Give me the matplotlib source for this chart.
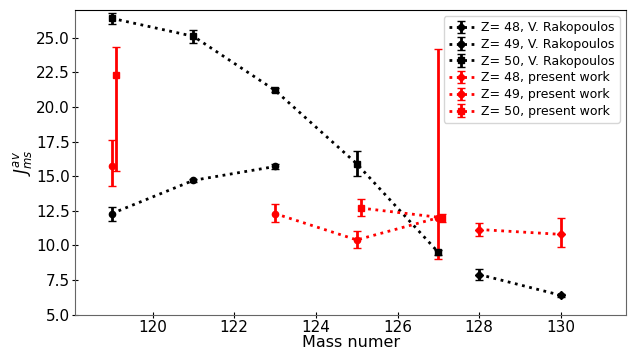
import numpy as np
import matplotlib
matplotlib.use("Agg")
import matplotlib.pyplot as plt

nan = np.nan

# ---- V. Rakopoulos (black)
x_rak_48 = [128, 130]
y_rak_48 = [7.9, 6.4]
e_rak_48 = [0.4, 0.12]

x_rak_49 = [119, 121, 123]
y_rak_49 = [12.3, 14.7, 15.7]
e_rak_49 = [0.5, 0.1, 0.2]

x_rak_50 = [119, 121, 123, 125, 127]
y_rak_50 = [26.4, 25.1, 21.2, 15.9, 9.5]
e_rak_50 = [0.4, 0.45, 0.15, 0.9, 0.2]

# ---- present work (red), asymmetric errors (low, high)
x_pw_48 = [128, 130]
y_pw_48 = [11.15, 10.8]
elo_pw_48 = [0.47, 0.9]
ehi_pw_48 = [0.47, 1.2]

x_pw_49 = [119, 121, 123, 125, 127]
y_pw_49 = [15.7, nan, 12.3, 10.4, 12.0]
elo_pw_49 = [1.4, nan, 0.6, 0.6, 3.0]
ehi_pw_49 = [1.9, nan, 0.7, 0.65, 12.2]

x_pw_50 = [119.1, 121.1, 123.1, 125.1, 127.1]
y_pw_50 = [22.3, nan, nan, 12.7, 12.0]
elo_pw_50 = [6.9, nan, nan, 0.6, 0.3]
ehi_pw_50 = [2.0, nan, nan, 0.65, 0.3]

fig = plt.figure(figsize=(6.3, 3.52), dpi=100)
ax = fig.add_axes([0.119, 0.106, 0.875, 0.8656])

common = dict(ls=":", lw=2, capsize=3, elinewidth=2, capthick=1)

ax.errorbar(x_rak_48, y_rak_48, yerr=e_rak_48, color="black", marker="D", ms=4,
            label="Z= 48, V. Rakopoulos", **common)
ax.errorbar(x_rak_49, y_rak_49, yerr=e_rak_49, color="black", marker="o", ms=4.5,
            label="Z= 49, V. Rakopoulos", **common)
ax.errorbar(x_rak_50, y_rak_50, yerr=e_rak_50, color="black", marker="s", ms=4.5,
            label="Z= 50, V. Rakopoulos", **common)

ax.errorbar(x_pw_48, y_pw_48, yerr=[elo_pw_48, ehi_pw_48], color="red", marker="D", ms=4,
            label="Z= 48, present work", **common)
ax.errorbar(x_pw_49, y_pw_49, yerr=[elo_pw_49, ehi_pw_49], color="red", marker="o", ms=4.5,
            label="Z= 49, present work", **common)
ax.errorbar(x_pw_50, y_pw_50, yerr=[elo_pw_50, ehi_pw_50], color="red", marker="s", ms=4.5,
            label="Z= 50, present work", **common)

ax.set_xlim(118.1, 131.6)
ax.set_ylim(5.0, 27.0)
ax.set_xticks([120, 122, 124, 126, 128, 130])
ax.set_yticks([5.0, 7.5, 10.0, 12.5, 15.0, 17.5, 20.0, 22.5, 25.0])
ax.tick_params(direction="inout", length=4, labelsize=11, pad=1.5)
for side in ["left", "bottom", "right"]:
    ax.spines[side].set_color("#666666")

ax.set_xlabel("Mass numer", fontsize=11.5)
ax.xaxis.set_label_coords(0.5, -0.066)
ax.set_ylabel("$J_{ms}^{av}$", fontsize=12, labelpad=2)

ax.legend(loc="upper right", fontsize=9, handletextpad=0.6, labelspacing=0.3,
          borderpad=0.4)

fig.savefig("out.png", dpi=100)
